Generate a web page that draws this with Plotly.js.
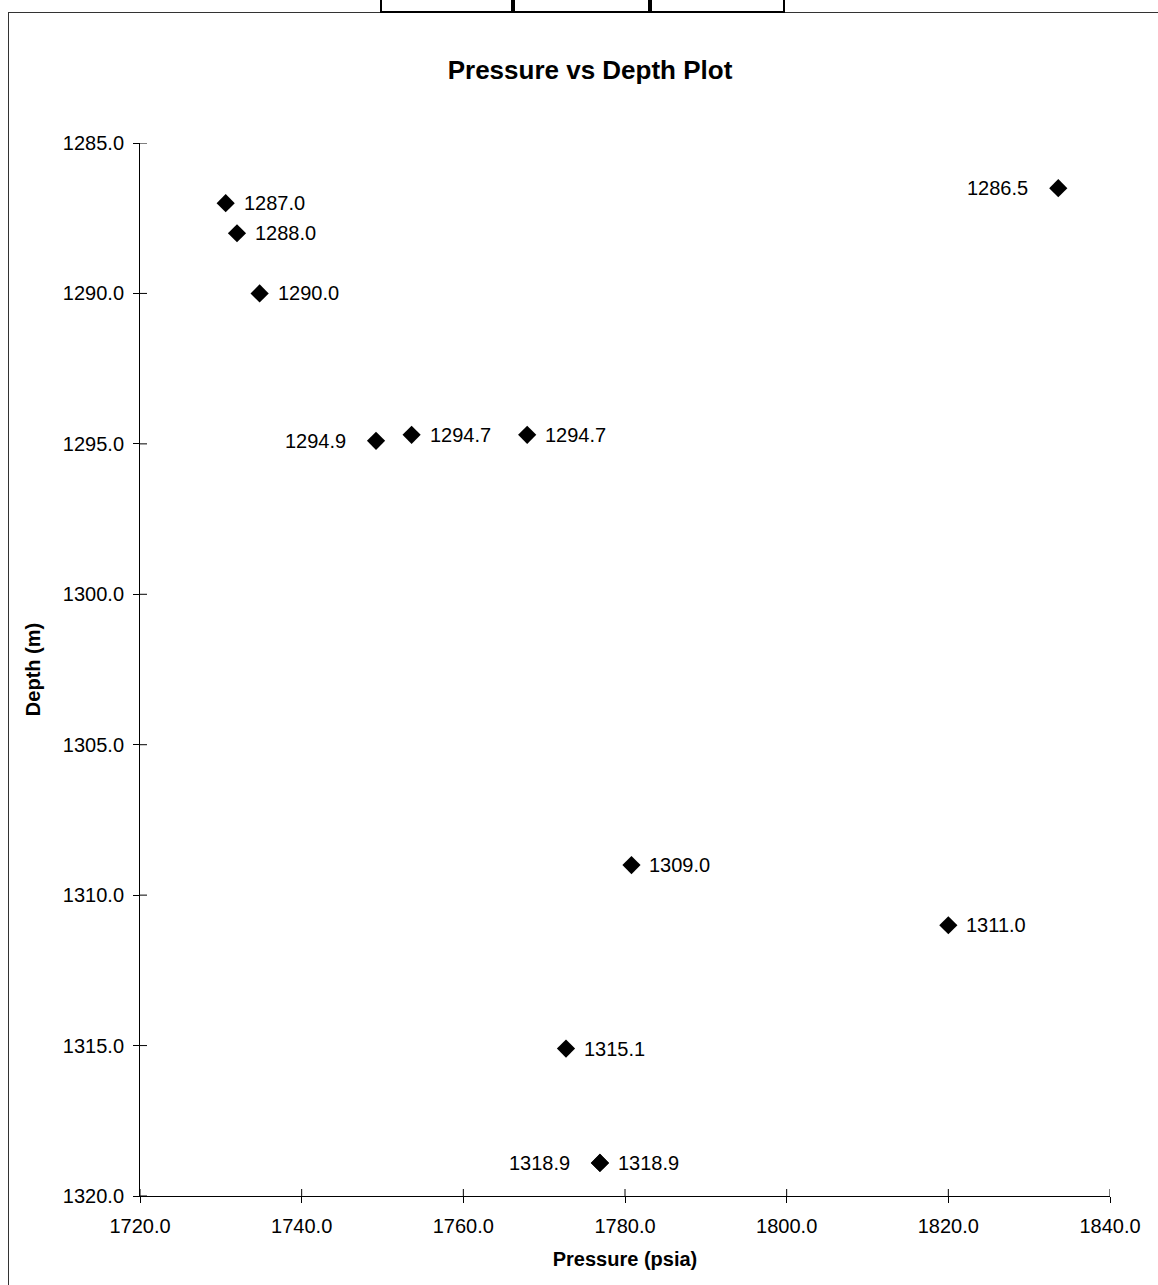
<!DOCTYPE html>
<html>
<head>
<meta charset="utf-8">
<script src="https://cdn.plot.ly/plotly-3.0.1.min.js"></script>
<style>
  html, body { margin: 0; padding: 0; background: #fff; }
  #wrap { position: relative; width: 1158px; height: 1285px; overflow: hidden; }
  #chart { position: absolute; left: 0; top: 0; width: 1158px; height: 1285px; }
  #frame { position: absolute; left: 8px; top: 12px; width: 1200px; height: 1300px;
           border-left: 1.5px solid #333; border-top: 1.5px solid #333; pointer-events: none; }
  .cell { position: absolute; top: -3px; height: 12px; border: 2px solid #000; pointer-events: none; }
</style>
</head>
<body>
<div id="wrap">
  <div id="chart"></div>
  <div id="frame"></div>
  <div class="cell" style="left:380px; width:131px;"></div>
  <div class="cell" style="left:511px; width:137px;"></div>
  <div class="cell" style="left:648px; width:133px;"></div>
</div>
<script>
// ---- data ----
const pressure = [1730.6, 1732.0, 1734.8, 1749.2, 1753.6, 1767.9, 1833.6, 1780.8, 1820.0, 1772.7, 1776.9, 1776.9];
const depth    = [1287.0, 1288.0, 1290.0, 1294.9, 1294.7, 1294.7, 1286.5, 1309.0, 1311.0, 1315.1, 1318.9, 1318.9];
const labelSide = ['right', 'right', 'right', 'left', 'right', 'right', 'left', 'right', 'right', 'right', 'left', 'right'];
const xTicks = [1720, 1740, 1760, 1780, 1800, 1820, 1840];
const yTicks = [1285, 1290, 1295, 1300, 1305, 1310, 1315, 1320];
const chartTitle = 'Pressure vs Depth Plot';
const xTitle = 'Pressure (psia)';
const yTitle = 'Depth (m)';

// ---- style ----
const FONT = 'Liberation Sans, Arial, Helvetica, sans-serif';

const trace = {
  type: 'scatter', mode: 'markers',
  x: pressure, y: depth,
  marker: { symbol: 'diamond', size: 14, color: '#000' },
  hoverinfo: 'x+y'
};

const annotations = pressure.map((p, i) => ({
  x: p, y: depth[i], xref: 'x', yref: 'y',
  text: depth[i].toFixed(1), showarrow: false,
  xanchor: labelSide[i] === 'left' ? 'right' : 'left',
  yanchor: 'middle',
  xshift: labelSide[i] === 'left' ? -28 : 16,
  font: { family: FONT, size: 20, color: '#000' }
}));

// inner half of the crossing tick marks
const shapes = [];
xTicks.forEach(v => shapes.push({
  type: 'line', xref: 'x', yref: 'paper', ysizemode: 'pixel', yanchor: 0,
  x0: v, x1: v, y0: 0, y1: 7, line: { color: '#000', width: 1 }
}));
yTicks.forEach(v => shapes.push({
  type: 'line', yref: 'y', xref: 'paper', xsizemode: 'pixel', xanchor: 0,
  y0: v, y1: v, x0: 0, x1: 7, line: { color: '#000', width: 1 }
}));

const axisCommon = {
  showgrid: false, zeroline: false, showline: true, linecolor: '#000', linewidth: 1,
  ticks: 'outside', ticklen: 6, tickwidth: 1, tickcolor: '#000',
  tickformat: '.1f', tickmode: 'array',
  tickfont: { family: FONT, size: 20, color: '#000' },
  automargin: false
};

const layout = {
  width: 1158, height: 1285,
  margin: { l: 140, r: 48, t: 143, b: 89, pad: 0 },
  paper_bgcolor: '#fff', plot_bgcolor: '#fff',
  showlegend: false,
  title: {
    text: '<b>' + chartTitle + '</b>',
    font: { family: FONT, size: 26, color: '#000' },
    x: 590 / 1158, xanchor: 'center', xref: 'container',
    y: 1 - 70 / 1285, yanchor: 'middle', yref: 'container'
  },
  xaxis: Object.assign({}, axisCommon, {
    range: [1720, 1840], tickvals: xTicks,
    ticklabelstandoff: 6,
    title: { text: '<b>' + xTitle + '</b>', font: { family: FONT, size: 20, color: '#000' }, standoff: 15 }
  }),
  yaxis: Object.assign({}, axisCommon, {
    range: [1320, 1285], tickvals: yTicks,
    ticklabelstandoff: 5,
    title: { text: '<b>' + yTitle + '</b>', font: { family: FONT, size: 20, color: '#000' }, standoff: 16 }
  }),
  shapes: shapes,
  annotations: annotations
};

Plotly.newPlot('chart', [trace], layout, { displayModeBar: false, staticPlot: true });
</script>
</body>
</html>
